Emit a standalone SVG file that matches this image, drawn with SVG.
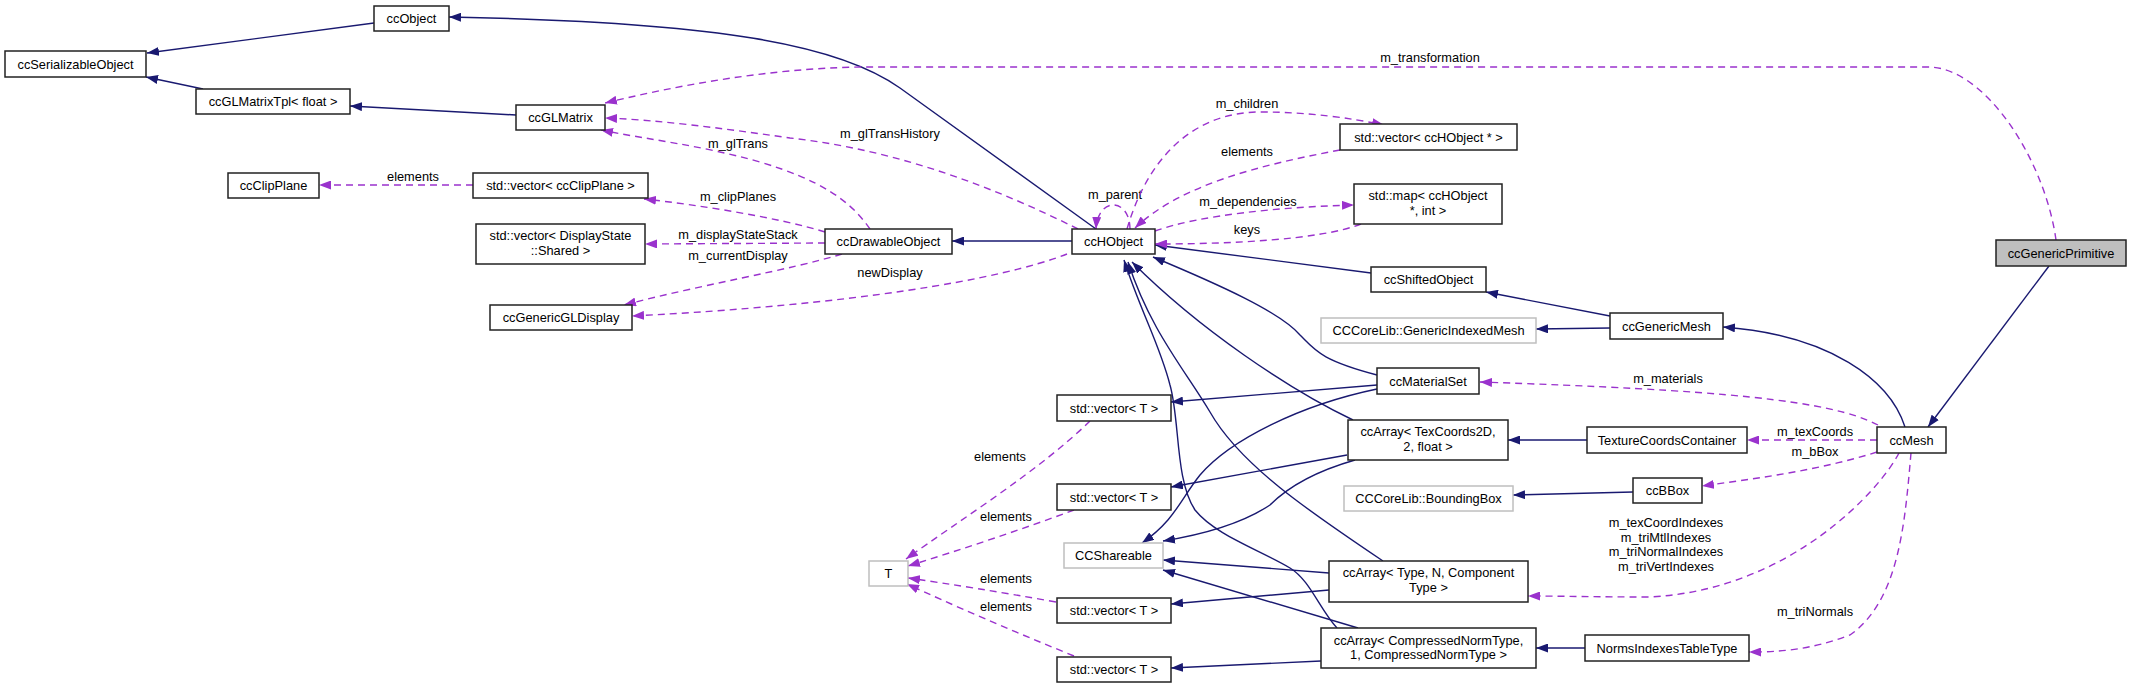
<svg xmlns="http://www.w3.org/2000/svg" width="2132" height="688" viewBox="0 0 2132 688">
<style>
text{font-family:"Liberation Sans",Arial,sans-serif;font-size:12.8px;fill:#000}
.n rect{fill:#fff;stroke:#222;stroke-width:1.5}
.x rect{fill:#fff;stroke:#bfbfbf;stroke-width:1.5}
.p rect{fill:#bfbfbf;stroke:#222;stroke-width:1.5}
.c{text-anchor:middle}
.i{fill:none;stroke:#191970;stroke-width:1.4;marker-end:url(#ai)}
.d{fill:none;stroke:#9a32cd;stroke-width:1.4;stroke-dasharray:7,5;marker-end:url(#ad)}
</style>
<defs>
<marker id="ai" viewBox="0 0 12 9" refX="12" refY="4.5" markerWidth="12" markerHeight="9" markerUnits="userSpaceOnUse" orient="auto"><path d="M0,0 L12,4.5 L0,9 z" fill="#191970"/></marker>
<marker id="ad" viewBox="0 0 12 9" refX="12" refY="4.5" markerWidth="12" markerHeight="9" markerUnits="userSpaceOnUse" orient="auto"><path d="M0,0 L12,4.5 L0,9 z" fill="#9a32cd"/></marker>
</defs>
<rect width="2132" height="688" fill="#fff"/>
<g id="connectors">
<path class="i" d="M374,23 L147,53"/>
<path class="i" d="M203,89 L146,77"/>
<path class="i" d="M516,115 L350,106"/>
<path class="i" d="M1096,229 L900,88 C840,45 720,22 449,17"/>
<path class="i" d="M1072,241 L952,241"/>
<path class="i" d="M1371,273 L1155,245"/>
<path class="i" d="M1610,316 L1486,292"/>
<path class="i" d="M1610,328 L1536,329"/>
<path class="i" d="M1905,427 C1890,380 1830,335 1723,327"/>
<path class="i" d="M2049,266 L1928,427"/>
<path class="i" d="M1587,440 L1508,440"/>
<path class="i" d="M1633,492 L1513,495"/>
<path class="i" d="M1585,648 L1536,648"/>
<path class="i" d="M1377,375 C1320,360 1315,350 1300,335 C1280,312 1220,285 1153,257"/>
<path class="i" d="M1377,385 L1171,402"/>
<path class="i" d="M1377,389 C1300,405 1230,440 1200,475 C1180,500 1175,520 1142,543"/>
<path class="i" d="M1353,420 C1290,390 1200,330 1132,262"/>
<path class="i" d="M1347,455 L1171,487"/>
<path class="i" d="M1355,460 C1320,470 1290,485 1270,505 C1240,525 1200,535 1163,541"/>
<path class="i" d="M1383,561 C1310,512 1240,465 1210,412 C1185,370 1150,330 1128,262"/>
<path class="i" d="M1329,573 L1163,560"/>
<path class="i" d="M1329,590 L1171,604"/>
<path class="i" d="M1337,628 C1320,610 1310,580 1290,568 C1260,550 1215,535 1195,510 C1175,480 1180,420 1170,385 C1160,345 1140,310 1124,260"/>
<path class="i" d="M1358,628 L1163,570"/>
<path class="i" d="M1321,661 L1171,668"/>

<path class="d" d="M2056,240 C2045,160 1985,67 1928,67 L870,67 C790,67 700,80 605,103"/>
<text class="c" x="1430" y="62">m_transformation</text>
<path class="d" d="M1078,229 C1000,190 900,150 790,138 C720,128 660,120 605,118"/>
<text class="c" x="890" y="138">m_glTransHistory</text>
<path class="d" d="M870,229 C850,200 820,180 760,162 C700,145 650,140 601,130"/>
<text class="c" x="738" y="148">m_glTrans</text>
<path class="d" d="M825,232 C780,218 700,205 644,199"/>
<text class="c" x="738" y="201">m_clipPlanes</text>
<path class="d" d="M825,243 L645,244"/>
<text class="c" x="738" y="239">m_displayStateStack</text>
<path class="d" d="M842,254 C790,270 700,285 624,305"/>
<text class="c" x="738" y="260">m_currentDisplay</text>
<path class="d" d="M1067,254 C1000,280 850,305 632,316"/>
<text class="c" x="890" y="277">newDisplay</text>
<path class="d" d="M473,185 L319,185"/>
<text class="c" x="413" y="181">elements</text>
<path class="d" d="M1130,229 C1130,198 1098,196 1096,229"/>
<text class="c" x="1115" y="199">m_parent</text>
<path class="d" d="M1127,229 C1150,150 1200,112 1260,112 C1310,112 1350,118 1384,125"/>
<text class="c" x="1247" y="108">m_children</text>
<path class="d" d="M1340,150 C1260,165 1180,185 1135,228"/>
<text class="c" x="1247" y="156">elements</text>
<path class="d" d="M1155,231 C1200,215 1280,207 1354,205"/>
<text class="c" x="1248" y="206">m_dependencies</text>
<path class="d" d="M1361,224 C1320,240 1230,244 1155,244"/>
<text class="c" x="1247" y="234">keys</text>
<path class="d" d="M1878,425 C1830,400 1720,390 1480,382"/>
<text class="c" x="1668" y="383">m_materials</text>
<path class="d" d="M1877,440 L1747,440"/>
<text class="c" x="1815" y="436">m_texCoords</text>
<path class="d" d="M1877,452 C1820,470 1760,478 1702,486"/>
<text class="c" x="1815" y="456">m_bBox</text>
<path class="d" d="M1899,453 C1880,490 1790,590 1650,597 C1600,597 1560,596 1528,596"/>
<text class="c" x="1666" y="527">m_texCoordIndexes</text>
<text class="c" x="1666" y="541.5">m_triMtlIndexes</text>
<text class="c" x="1666" y="556">m_triNormalIndexes</text>
<text class="c" x="1666" y="571">m_triVertIndexes</text>
<path class="d" d="M1911,453 C1905,520 1900,600 1850,635 C1810,650 1780,652 1749,652"/>
<text class="c" x="1815" y="616">m_triNormals</text>
<path class="d" d="M1090,421 C1040,470 960,520 906,559"/>
<text class="c" x="1000" y="461">elements</text>
<path class="d" d="M1074,510 C1020,530 960,550 908,566"/>
<text class="c" x="1006" y="521">elements</text>
<path class="d" d="M1056,602 C1000,592 950,584 908,578"/>
<text class="c" x="1006" y="583">elements</text>
<path class="d" d="M1074,656 C1010,630 950,604 907,584"/>
<text class="c" x="1006" y="611">elements</text>
</g>
<g id="ccObject" class="n"><rect x="374" y="6" width="75" height="25"/><text class="c" x="411.5" y="23">ccObject</text></g>
<g id="ccSerializableObject" class="n"><rect x="5" y="51" width="141" height="26"/><text class="c" x="75.5" y="68.5">ccSerializableObject</text></g>
<g id="ccGLMatrixTpl" class="n"><rect x="196" y="89" width="154" height="25"/><text class="c" x="273" y="106">ccGLMatrixTpl&lt; float &gt;</text></g>
<g id="ccGLMatrix" class="n"><rect x="516" y="105" width="89" height="25"/><text class="c" x="560.5" y="122">ccGLMatrix</text></g>
<g id="ccClipPlane" class="n"><rect x="228" y="173" width="91" height="25"/><text class="c" x="273.5" y="190">ccClipPlane</text></g>
<g id="vecClipPlane" class="n"><rect x="473" y="173" width="175" height="25"/><text class="c" x="560.5" y="190">std::vector&lt; ccClipPlane &gt;</text></g>
<g id="vecDisplayState" class="n"><rect x="476" y="224" width="169" height="40"/><text class="c" x="560.5" y="240">std::vector&lt; DisplayState</text><text class="c" x="560.5" y="255">::Shared &gt;</text></g>
<g id="ccGenericGLDisplay" class="n"><rect x="490" y="305" width="142" height="25"/><text class="c" x="561" y="322">ccGenericGLDisplay</text></g>
<g id="ccDrawableObject" class="n"><rect x="825" y="229" width="127" height="25"/><text class="c" x="888.5" y="246">ccDrawableObject</text></g>
<g id="ccHObject" class="n"><rect x="1072" y="229" width="83" height="25"/><text class="c" x="1113.5" y="246">ccHObject</text></g>
<g id="vecHObject" class="n"><rect x="1340" y="124" width="177" height="26"/><text class="c" x="1428.5" y="141.5">std::vector&lt; ccHObject * &gt;</text></g>
<g id="mapHObject" class="n"><rect x="1354" y="184" width="148" height="40"/><text class="c" x="1428" y="200">std::map&lt; ccHObject</text><text class="c" x="1428" y="214.5">*, int &gt;</text></g>
<g id="ccShiftedObject" class="n"><rect x="1371" y="267" width="115" height="25"/><text class="c" x="1428.5" y="284">ccShiftedObject</text></g>
<g id="GenericIndexedMesh" class="x"><rect x="1321" y="318" width="215" height="25"/><text class="c" x="1428.5" y="335">CCCoreLib::GenericIndexedMesh</text></g>
<g id="ccGenericMesh" class="n"><rect x="1610" y="313" width="113" height="26"/><text class="c" x="1666.5" y="330.5">ccGenericMesh</text></g>
<g id="ccMaterialSet" class="n"><rect x="1377" y="368" width="102" height="26"/><text class="c" x="1428" y="385.5">ccMaterialSet</text></g>
<g id="vecT1" class="n"><rect x="1057" y="395" width="114" height="26"/><text class="c" x="1114" y="412.5">std::vector&lt; T &gt;</text></g>
<g id="ccArrayTexCoords" class="n"><rect x="1348" y="420" width="160" height="40"/><text class="c" x="1428" y="436">ccArray&lt; TexCoords2D,</text><text class="c" x="1428" y="451">2, float &gt;</text></g>
<g id="TextureCoordsContainer" class="n"><rect x="1587" y="427" width="160" height="26"/><text class="c" x="1667" y="444.5">TextureCoordsContainer</text></g>
<g id="ccMesh" class="n"><rect x="1877" y="427" width="69" height="26"/><text class="c" x="1911.5" y="444.5">ccMesh</text></g>
<g id="ccGenericPrimitive" class="p"><rect x="1996" y="240" width="130" height="26"/><text class="c" x="2061" y="257.5">ccGenericPrimitive</text></g>
<g id="vecT2" class="n"><rect x="1057" y="484" width="114" height="26"/><text class="c" x="1114" y="501.5">std::vector&lt; T &gt;</text></g>
<g id="BoundingBox" class="x"><rect x="1344" y="486" width="169" height="25"/><text class="c" x="1428.5" y="503">CCCoreLib::BoundingBox</text></g>
<g id="ccBBox" class="n"><rect x="1633" y="478" width="69" height="25"/><text class="c" x="1667.5" y="495">ccBBox</text></g>
<g id="T" class="x"><rect x="869" y="561" width="39" height="25"/><text class="c" x="888.5" y="578">T</text></g>
<g id="CCShareable" class="x"><rect x="1064" y="543" width="99" height="25"/><text class="c" x="1113.5" y="560">CCShareable</text></g>
<g id="ccArrayTypeN" class="n"><rect x="1329" y="561" width="199" height="41"/><text class="c" x="1428.5" y="577">ccArray&lt; Type, N, Component</text><text class="c" x="1428.5" y="591.5">Type &gt;</text></g>
<g id="vecT3" class="n"><rect x="1057" y="598" width="114" height="25"/><text class="c" x="1114" y="615">std::vector&lt; T &gt;</text></g>
<g id="ccArrayCompressed" class="n"><rect x="1321" y="628" width="215" height="40"/><text class="c" x="1428.5" y="644.5">ccArray&lt; CompressedNormType,</text><text class="c" x="1428.5" y="658.5">1, CompressedNormType &gt;</text></g>
<g id="NormsIndexesTableType" class="n"><rect x="1585" y="635" width="164" height="26"/><text class="c" x="1667" y="652.5">NormsIndexesTableType</text></g>
<g id="vecT4" class="n"><rect x="1057" y="657" width="114" height="25"/><text class="c" x="1114" y="674">std::vector&lt; T &gt;</text></g>
</svg>
